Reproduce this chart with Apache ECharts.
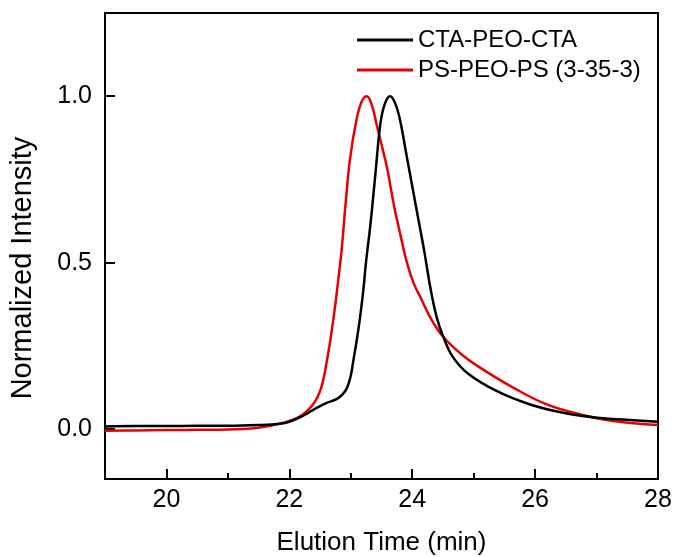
<!DOCTYPE html>
<html>
<head>
<meta charset="utf-8">
<script src="https://cdn.jsdelivr.net/npm/echarts@6/dist/echarts.min.js"></script>
<style>
html,body{margin:0;padding:0;background:#fff;}
#chart{width:677px;height:557px;}
</style>
</head>
<body>
<div id="chart"></div>
<script>
// ---- data ----
const seriesNames = ['CTA-PEO-CTA', 'PS-PEO-PS (3-35-3)'];
const yAxisTitle = 'Normalized Intensity';
const xAxisTitle = 'Elution Time (min)';

const ctaTime = [19.0, 19.5, 20.0, 20.5, 21.0, 21.5, 21.85, 22.0, 22.18, 22.3, 22.45, 22.6, 22.77, 22.87, 22.94, 23.0, 23.04, 23.1, 23.15, 23.2, 23.25, 23.32, 23.4, 23.48, 23.55, 23.64, 23.72, 23.8, 23.9, 24.0, 24.1, 24.2, 24.3, 24.4, 24.5, 24.65, 24.9, 25.38, 25.92, 26.46, 27.01, 27.5, 28.0];
const ctaIntensity = [0.008, 0.009, 0.009, 0.010, 0.010, 0.012, 0.016, 0.022, 0.036, 0.048, 0.064, 0.078, 0.090, 0.105, 0.124, 0.160, 0.204, 0.270, 0.334, 0.410, 0.505, 0.615, 0.765, 0.915, 0.975, 1.000, 0.980, 0.930, 0.830, 0.730, 0.630, 0.530, 0.420, 0.335, 0.280, 0.220, 0.168, 0.114, 0.074, 0.049, 0.034, 0.028, 0.022];

const psTime = [19.0, 19.5, 20.0, 20.5, 21.0, 21.5, 22.07, 22.34, 22.5, 22.61, 22.72, 22.8, 22.85, 22.91, 22.99, 23.1, 23.18, 23.26, 23.34, 23.42, 23.5, 23.59, 23.7, 23.8, 23.9, 24.02, 24.15, 24.3, 24.5, 24.8, 25.11, 25.65, 26.19, 26.74, 27.28, 28.0];
const psIntensity = [-0.005, -0.004, -0.003, -0.002, -0.001, 0.004, 0.029, 0.064, 0.114, 0.204, 0.334, 0.454, 0.535, 0.665, 0.815, 0.935, 0.985, 1.000, 0.975, 0.915, 0.855, 0.785, 0.675, 0.590, 0.510, 0.440, 0.390, 0.333, 0.278, 0.225, 0.184, 0.124, 0.074, 0.044, 0.024, 0.012];

const xMajorTicks = [20, 22, 24, 26, 28];
const xMinorTicks = [21, 23, 25, 27];
const yTicks = [0, 0.5, 1.0];

// ---- chart ----
const FONT = 'Liberation Sans, Arial, sans-serif';
const chart = echarts.init(document.getElementById('chart'), null, {renderer: 'canvas'});

function pairs(xs, ys) { return xs.map((x, i) => [x, ys[i]]); }

chart.setOption({
  animation: false,
  backgroundColor: '#fff',
  grid: {left: 105, top: 13, right: 19, bottom: 78, show: true, borderColor: '#000', borderWidth: 2,
    containLabel: false, outerBoundsMode: 'none'},
  legend: {
    orient: 'vertical', left: 357, top: 28, padding: 0, itemWidth: 56, itemHeight: 3, itemGap: 6,
    icon: 'rect',
    textStyle: {fontFamily: FONT, fontSize: 24, color: '#000'},
    data: seriesNames
  },
  graphic: [{
    type: 'text', x: 23, y: 268, rotation: Math.PI / 2,
    style: {text: yAxisTitle, fontFamily: FONT, fontSize: 29, fill: '#000',
      align: 'center', verticalAlign: 'middle'}
  }],
  xAxis: [{
    type: 'value', min: 19, max: 28,
    name: xAxisTitle, nameLocation: 'middle', nameGap: 51,
    nameTextStyle: {fontFamily: FONT, fontSize: 26, color: '#000'},
    axisLine: {show: true, onZero: false, lineStyle: {color: '#000', width: 2}},
    axisTick: {show: true, inside: true, length: 10, lineStyle: {color: '#000', width: 2}, customValues: xMajorTicks},
    axisLabel: {fontFamily: FONT, fontSize: 25, color: '#000', margin: 9, customValues: xMajorTicks},
    splitLine: {show: false}
  }, {
    type: 'value', min: 19, max: 28, position: 'bottom',
    axisLine: {show: false, onZero: false},
    axisTick: {show: true, inside: true, length: 6, lineStyle: {color: '#000', width: 2}, customValues: xMinorTicks},
    axisLabel: {show: false, customValues: xMinorTicks},
    splitLine: {show: false}
  }],
  yAxis: {
    type: 'value', min: -0.15, max: 1.25,
    axisLine: {show: true, onZero: false, lineStyle: {color: '#000', width: 2}},
    axisTick: {show: true, inside: true, length: 10, lineStyle: {color: '#000', width: 2}, customValues: yTicks},
    axisLabel: {fontFamily: FONT, fontSize: 25, color: '#000', margin: 13, customValues: yTicks,
      formatter: v => v.toFixed(1)},
    splitLine: {show: false}
  },
  series: [{
    name: seriesNames[0], type: 'line', xAxisIndex: 0,
    data: pairs(ctaTime, ctaIntensity),
    symbol: 'none', smooth: 0.4,
    lineStyle: {color: '#000', width: 2.5}, itemStyle: {color: '#000'}, z: 3
  }, {
    name: seriesNames[1], type: 'line', xAxisIndex: 0,
    data: pairs(psTime, psIntensity),
    symbol: 'none', smooth: 0.4,
    lineStyle: {color: '#e60000', width: 2.5}, itemStyle: {color: '#e60000'}, z: 2
  }]
});
</script>
</body>
</html>
